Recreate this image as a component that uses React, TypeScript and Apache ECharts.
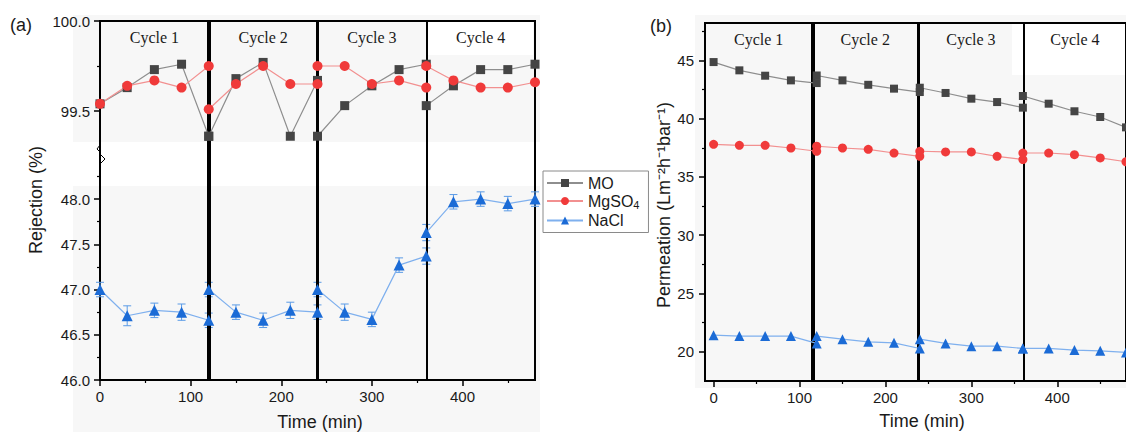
import React, { useEffect, useRef } from 'react';
import * as echarts from 'echarts';

// ---------------- data ----------------
const timeMin = [0, 30, 60, 90, 120, 120, 150, 180, 210, 240, 240, 270, 300, 330, 360, 360, 390, 420, 450, 480];
const pointsPerCycle = 5;
const cycleNames = ['Cycle 1', 'Cycle 2', 'Cycle 3', 'Cycle 4'];
const cycleLinesA = [120, 240, 360];
const cycleLinesB = [115, 238, 361];
const legendNames = ['MO', 'MgSO4', 'NaCl'];

// (a) Rejection (%)
const rejectionMO = [99.54, 99.63, 99.73, 99.76, 99.36, 99.36, 99.68, 99.77, 99.36, 99.67, 99.36, 99.53, 99.64, 99.73, 99.76, 99.53, 99.64, 99.73, 99.73, 99.76];
const rejectionMgSO4 = [99.54, 99.64, 99.67, 99.63, 99.75, 99.51, 99.65, 99.75, 99.65, 99.65, 99.75, 99.75, 99.65, 99.67, 99.63, 99.75, 99.67, 99.63, 99.63, 99.66];
const rejectionNaCl = [47.0, 46.71, 46.77, 46.75, 46.66, 47.0, 46.75, 46.66, 46.77, 46.75, 47.0, 46.75, 46.67, 47.27, 47.37, 47.63, 47.97, 48.0, 47.95, 48.0];
const rejectionNaClErr = [0.08, 0.11, 0.08, 0.09, 0.08, 0.08, 0.08, 0.08, 0.09, 0.08, 0.08, 0.09, 0.08, 0.08, 0.09, 0.09, 0.08, 0.08, 0.08, 0.08];

// (b) Permeation (L m-2 h-1 bar-1)
const permeationMO = [44.85, 44.14, 43.68, 43.28, 43.05, 43.7, 43.28, 42.9, 42.57, 42.28, 42.65, 42.2, 41.71, 41.42, 40.94, 41.94, 41.28, 40.63, 40.14, 39.25];
const permeationMgSO4 = [37.8, 37.71, 37.71, 37.48, 37.2, 37.63, 37.48, 37.37, 37.05, 36.77, 37.2, 37.14, 37.14, 36.77, 36.49, 37.05, 37.05, 36.91, 36.63, 36.3];
const permeationNaCl = [21.43, 21.35, 21.35, 21.35, 20.72, 21.35, 21.09, 20.86, 20.77, 20.29, 21.09, 20.72, 20.49, 20.49, 20.29, 20.29, 20.29, 20.15, 20.09, 19.95];

// ticks
const timeTicks = [0, 100, 200, 300, 400];
const timeMinorTicks = [50, 150, 250, 350, 450];
const rejUpperTicks = [99.5, 100.0];
const rejUpperMinorTicks = [99.75];
const rejLowerTicks = [46.0, 46.5, 47.0, 47.5, 48.0];
const rejLowerMinorTicks = [46.25, 46.75, 47.25, 47.75, 48.25];
const permTicks = [20, 25, 30, 35, 40, 45];
const permMinorTicks = [22.5, 27.5, 32.5, 37.5, 42.5, 47.5];

// axis extents
const timeRangeA = [0, 480];
const timeRangeB = [-10, 480];
const rejUpperRange = [99.328, 100];
const rejLowerRange = [46, 48.62];
const permRange = [17.5, 48.2];

// ---------------- styling / layout ----------------
const FONT = '"Liberation Sans", Arial, sans-serif';
const SERIF = '"Liberation Serif", "Times New Roman", serif';
const INK = '#1a1a1a';
const lineWidths = [4, 3, 2];

const STY: Record<string, { symbol: string; marker: string; line: string }> = {
  MO: { symbol: 'rect', marker: '#454545', line: '#8e8e8e' },
  MgSO4: { symbol: 'circle', marker: '#f03a3a', line: '#f29090' },
  NaCl: { symbol: 'triangle', marker: '#1b6bd6', line: '#7fb0ee' },
};

const A = { left: 100, width: 435, top: 21, upH: 121, lowTop: 143, lowH: 237, fullH: 359 };
const B = { left: 705, width: 427, top: 23, height: 358 };

function segmented(ys: number[]) {
  const out: any[] = [];
  ys.forEach((y, i) => {
    out.push([timeMin[i], y]);
    if (i % pointsPerCycle === pointsPerCycle - 1 && i < ys.length - 1) out.push([timeMin[i], '-']);
  });
  return out;
}

function lineSeries(name: string, ys: number[], xi: number, yi: number, size: number) {
  const s = STY[name];
  return {
    type: 'line',
    name,
    xAxisIndex: xi,
    yAxisIndex: yi,
    data: segmented(ys),
    symbol: s.symbol,
    symbolSize: size,
    showSymbol: true,
    connectNulls: false,
    itemStyle: { color: s.marker },
    lineStyle: { color: s.line, width: 1.2 },
    emphasis: { disabled: true },
    z: 5,
  };
}

function mainAxis(dim: 'x' | 'y', gridIndex: number, range: number[], ticks: number[], fmt: any, margin: number) {
  return {
    type: 'value',
    gridIndex,
    min: range[0],
    max: range[1],
    position: dim === 'x' ? 'bottom' : 'left',
    axisLine: { show: false, onZero: false },
    splitLine: { show: false },
    axisTick: { show: true, length: 6, lineStyle: { color: '#000', width: 1.5 }, customValues: ticks },
    axisLabel: { show: true, customValues: ticks, formatter: fmt, margin, color: INK, fontFamily: FONT, fontSize: 15 },
  };
}

function minorAxis(dim: 'x' | 'y', gridIndex: number, range: number[], ticks: number[]) {
  return {
    type: 'value',
    gridIndex,
    min: range[0],
    max: range[1],
    position: dim === 'x' ? 'bottom' : 'left',
    axisLine: { show: false, onZero: false },
    splitLine: { show: false },
    axisTick: { show: true, length: 3, lineStyle: { color: '#000', width: 1.2 }, customValues: ticks },
    axisLabel: { show: false },
  };
}

function hiddenAxis(gridIndex: number, range: number[]) {
  return { type: 'value', gridIndex, min: range[0], max: range[1], show: false, axisLine: { onZero: false } };
}

function cycleOverlay(xi: number, yi: number, lines: number[], range: number[]) {
  const bounds = [range[0], ...lines, range[1]];
  return {
    type: 'line',
    name: 'cycles',
    xAxisIndex: xi,
    yAxisIndex: yi,
    data: [],
    z: 1,
    silent: true,
    markLine: {
      silent: true,
      symbol: ['none', 'none'],
      label: { show: false },
      data: lines.map((x, i) => ({ xAxis: x, lineStyle: { color: '#000', width: lineWidths[i], type: 'solid' } })),
    },
    markArea: {
      silent: true,
      itemStyle: { color: 'rgba(0,0,0,0)' },
      label: { show: true, position: 'insideTop', distance: 8, color: INK, fontFamily: SERIF, fontSize: 16 },
      data: cycleNames.map((n, i) => [{ name: n, xAxis: bounds[i] }, { xAxis: bounds[i + 1] }]),
    },
  };
}

function buildOption() {
  const grids = [
    { left: A.left, top: A.top, width: A.width, height: A.upH }, // 0 upper
    { left: A.left, top: A.top, width: A.width, height: A.upH }, // 1 upper minor
    { left: A.left, top: A.lowTop, width: A.width, height: A.lowH }, // 2 lower
    { left: A.left, top: A.lowTop, width: A.width, height: A.lowH }, // 3 lower minor
    { left: A.left, top: A.top, width: A.width, height: A.fullH, show: true, borderColor: '#000', borderWidth: 2, backgroundColor: 'transparent' }, // 4 frame
    { left: B.left, top: B.top, width: B.width, height: B.height, show: true, borderColor: '#000', borderWidth: 2, backgroundColor: 'transparent' }, // 5 right
    { left: B.left, top: B.top, width: B.width, height: B.height }, // 6 right minor
  ];
  const f1 = (v: number) => v.toFixed(1);
  const f0 = (v: number) => String(v);
  const xAxis = [
    hiddenAxis(0, timeRangeA),
    hiddenAxis(1, timeRangeA),
    mainAxis('x', 2, timeRangeA, timeTicks, f0, 9),
    minorAxis('x', 3, timeRangeA, timeMinorTicks),
    hiddenAxis(4, timeRangeA),
    mainAxis('x', 5, timeRangeB, timeTicks, f0, 9),
    minorAxis('x', 6, timeRangeB, timeMinorTicks),
  ];
  const yAxis = [
    mainAxis('y', 0, rejUpperRange, rejUpperTicks, f1, 10),
    minorAxis('y', 1, rejUpperRange, rejUpperMinorTicks),
    mainAxis('y', 2, rejLowerRange, rejLowerTicks, f1, 10),
    minorAxis('y', 3, rejLowerRange, rejLowerMinorTicks),
    hiddenAxis(4, [0, 1]),
    mainAxis('y', 5, permRange, permTicks, f0, 11),
    minorAxis('y', 6, permRange, permMinorTicks),
  ];

  const errSeries = {
    type: 'custom',
    name: 'NaCl error',
    xAxisIndex: 2,
    yAxisIndex: 2,
    z: 4,
    silent: true,
    data: timeMin.map((t, i) => [t, rejectionNaCl[i], rejectionNaClErr[i]]),
    encode: { x: 0, y: 1 },
    renderItem: (params: any, api: any) => {
      const x = api.value(0);
      const y = api.value(1);
      const e = api.value(2);
      const hi = api.coord([x, y + e]);
      const lo = api.coord([x, y - e]);
      const w = 4;
      const st = { stroke: '#5b9be6', lineWidth: 1 };
      return {
        type: 'group',
        children: [
          { type: 'line', shape: { x1: hi[0], y1: hi[1], x2: lo[0], y2: lo[1] }, style: st },
          { type: 'line', shape: { x1: hi[0] - w, y1: hi[1], x2: hi[0] + w, y2: hi[1] }, style: st },
          { type: 'line', shape: { x1: lo[0] - w, y1: lo[1], x2: lo[0] + w, y2: lo[1] }, style: st },
        ],
      };
    },
  };

  const series = [
    cycleOverlay(4, 4, cycleLinesA, timeRangeA),
    lineSeries('MO', rejectionMO, 0, 0, 9),
    lineSeries('MgSO4', rejectionMgSO4, 0, 0, 10),
    errSeries,
    lineSeries('NaCl', rejectionNaCl, 2, 2, 11),
    cycleOverlay(5, 5, cycleLinesB, timeRangeB),
    lineSeries('MO', permeationMO, 5, 5, 8),
    lineSeries('MgSO4', permeationMgSO4, 5, 5, 9),
    lineSeries('NaCl', permeationNaCl, 5, 5, 10),
  ];

  const bg = '#f7f7f7';
  const title = (text: string, x: number, y: number, rot = 0, size = 18) => ({
    type: 'text',
    x,
    y,
    rotation: rot,
    silent: true,
    style: { text, fill: INK, font: `${size}px ${FONT}`, align: 'center', verticalAlign: 'middle' },
  });

  const graphic = [
    { type: 'rect', z: -10, silent: true, shape: { x: 73, y: 15, width: 467, height: 127 }, style: { fill: bg } },
    { type: 'rect', z: -10, silent: true, shape: { x: 73, y: 186, width: 467, height: 246 }, style: { fill: bg } },
    { type: 'rect', z: -10, silent: true, shape: { x: 695, y: 15, width: 431, height: 373 }, style: { fill: bg } },
    { type: 'rect', z: -9, silent: true, shape: { x: 427, y: 22, width: 106, height: 33 }, style: { fill: '#fff' } },
    { type: 'rect', z: -9, silent: true, shape: { x: 1012, y: 24, width: 114, height: 51 }, style: { fill: '#fff' } },
    { type: 'polyline', silent: true, shape: { points: [[100, 145], [97, 149], [101, 153]] }, style: { stroke: '#000', lineWidth: 1, fill: null } },
    { type: 'polyline', silent: true, shape: { points: [[101, 155], [105, 159], [101, 163]] }, style: { stroke: '#000', lineWidth: 1, fill: null } },
    title('(a)', 21, 25),
    title('(b)', 661, 26),
    title('Rejection (%)', 36, 200, Math.PI / 2),
    title('Permeation (Lm⁻²h⁻¹bar⁻¹)', 664, 205, Math.PI / 2),
    title('Time (min)', 320, 422),
    title('Time (min)', 922, 421),
  ];

  return {
    animation: false,
    backgroundColor: '#fff',
    grid: grids,
    xAxis,
    yAxis,
    series,
    graphic,
    legend: {
      data: legendNames,
      orient: 'vertical',
      left: 543,
      top: 171,
      padding: [4, 9, 4, 3],
      itemGap: 2,
      itemWidth: 36,
      itemHeight: 10,
      borderColor: '#8a8a8a',
      borderWidth: 1,
      backgroundColor: '#fff',
      selectedMode: false,
      formatter: (name: string) => (name === 'MgSO4' ? 'MgSO{sub|4}' : name),
      textStyle: {
        color: INK,
        fontFamily: FONT,
        fontSize: 16,
        rich: { sub: { fontSize: 11, fontFamily: FONT, color: INK, verticalAlign: 'bottom', padding: [8, 0, 0, 0] } },
      },
    },
  };
}

export default function App() {
  const ref = useRef<HTMLDivElement>(null);
  useEffect(() => {
    const chart = echarts.init(ref.current as HTMLDivElement, null, { renderer: 'svg' });
    chart.setOption(buildOption() as any);
    return () => chart.dispose();
  }, []);
  return <div ref={ref} style={{ position: 'fixed', left: 0, top: 0, width: 1126, height: 432 }} />;
}
